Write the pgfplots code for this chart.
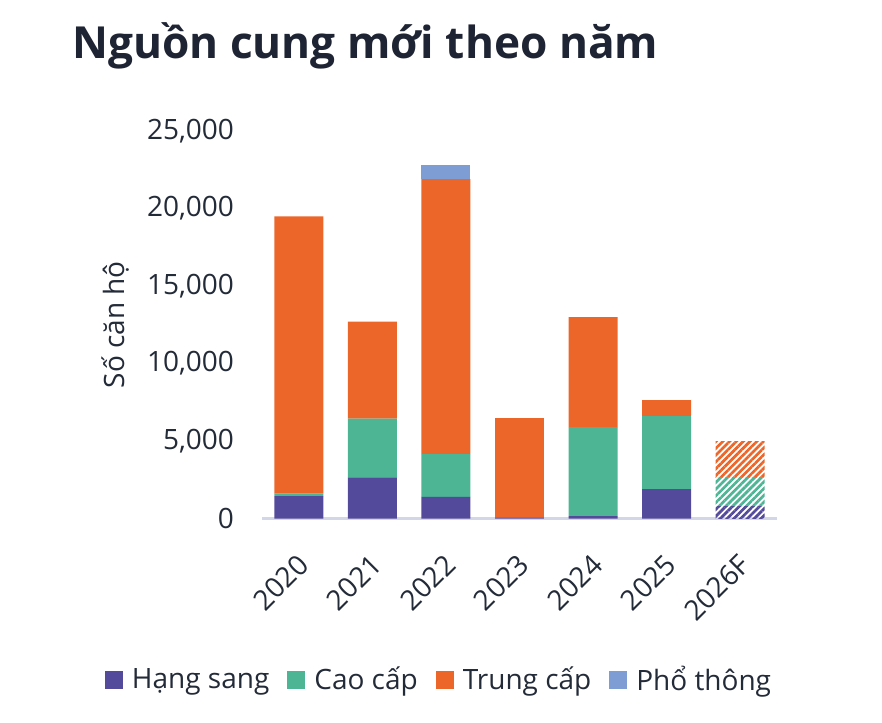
\documentclass[border=0pt]{standalone}
\usepackage{pgfplots}
\pgfplotsset{compat=1.18}
\usepackage{fontspec}
\setmainfont{Open Sans}
\usetikzlibrary{patterns.meta}
\definecolor{cPur}{HTML}{544A9C}
\definecolor{cGrn}{HTML}{4DB494}
\definecolor{cOra}{HTML}{EC6529}
\definecolor{cBlu}{HTML}{7E9DD4}
\definecolor{cTxt}{HTML}{232A38}
\definecolor{cTitle}{HTML}{1E2433}
\definecolor{cAxis}{HTML}{D3D6E6}
\begin{document}
\begin{tikzpicture}
\useasboundingbox (0,0) rectangle (441bp,-361.5bp);
\node[anchor=base west, font=\bfseries\fontsize{22.1bp}{26bp}\selectfont, text=cTitle, inner sep=0pt] at (36bp,-29bp) {Nguồn cung mới theo năm};
\begin{axis}[
  at={(131bp,-259.25bp)}, anchor=south west,
  scale only axis, width=257.5bp, height=193.75bp,
  xmin=-0.5, xmax=6.5, ymin=0, ymax=25000,
  ybar stacked, bar width=0.666,
  axis x line*=bottom, axis y line*=left,
  x axis line style={-, cAxis, line width=1.3bp},
  y axis line style={draw=none},
  major tick length=0pt,
  xtick={0,...,6}, xticklabels={2020,2021,2022,2023,2024,2025,2026F},
  ytick={0,5000,10000,15000,20000,25000},
  /pgf/number format/assume math mode=true,
  /pgf/number format/1000 sep={,},
  scaled y ticks=false,
  tick label style={font=\fontsize{14bp}{16bp}\selectfont, text=cTxt},
  xticklabel style={rotate=45, anchor=north east, yshift=-7.5bp, xshift=-9.5bp},
  yticklabel style={anchor=east, xshift=-10.5bp},
  ylabel={Số căn hộ},
  ylabel style={at={(axis description cs:-0.2835,0.5)}, anchor=center, rotate=0, font=\fontsize{14bp}{16bp}\selectfont, text=cTxt},
  legend style={at={(axis description cs:0.3456,-0.417)}, anchor=center, draw=none, fill=none,
    font=\fontsize{14bp}{16bp}\selectfont, text=cTxt, legend columns=-1,
    /tikz/every odd column/.append style={column sep=2.5bp},
    /tikz/every even column/.append style={column sep=7bp}},
  legend image code/.code={\fill[#1] (0bp,-4.5bp) rectangle (9bp,4.5bp);},
  clip=false,
]
\addplot[fill=cPur, draw=none] coordinates {(0,1450) (1,2650) (2,1400) (3,80) (4,150) (5,1900) (6,0)};
\addlegendentry{Hạng sang}
\addplot[fill=cGrn, draw=none] coordinates {(0,150) (1,3800) (2,2750) (3,0) (4,5750) (5,4700) (6,0)};
\addlegendentry{Cao cấp}
\addplot[fill=cOra, draw=none] coordinates {(0,17900) (1,6250) (2,17750) (3,6400) (4,7100) (5,1030) (6,0)};
\addlegendentry{Trung cấp}
\addplot[fill=cBlu, draw=none] coordinates {(0,0) (1,0) (2,900) (3,0) (4,0) (5,0) (6,0)};
\addlegendentry{Phổ thông}
\addplot[draw=none, pattern={Lines[angle=45,distance=2.4bp,line width=1.35bp]}, pattern color=cPur] coordinates {(0,0) (1,0) (2,0) (3,0) (4,0) (5,0) (6,750)};
\addplot[draw=none, pattern={Lines[angle=45,distance=2.4bp,line width=1.35bp]}, pattern color=cGrn] coordinates {(0,0) (1,0) (2,0) (3,0) (4,0) (5,0) (6,1900)};
\addplot[draw=none, pattern={Lines[angle=45,distance=2.4bp,line width=1.35bp]}, pattern color=cOra] coordinates {(0,0) (1,0) (2,0) (3,0) (4,0) (5,0) (6,2350)};
\end{axis}
\end{tikzpicture}
\end{document}
